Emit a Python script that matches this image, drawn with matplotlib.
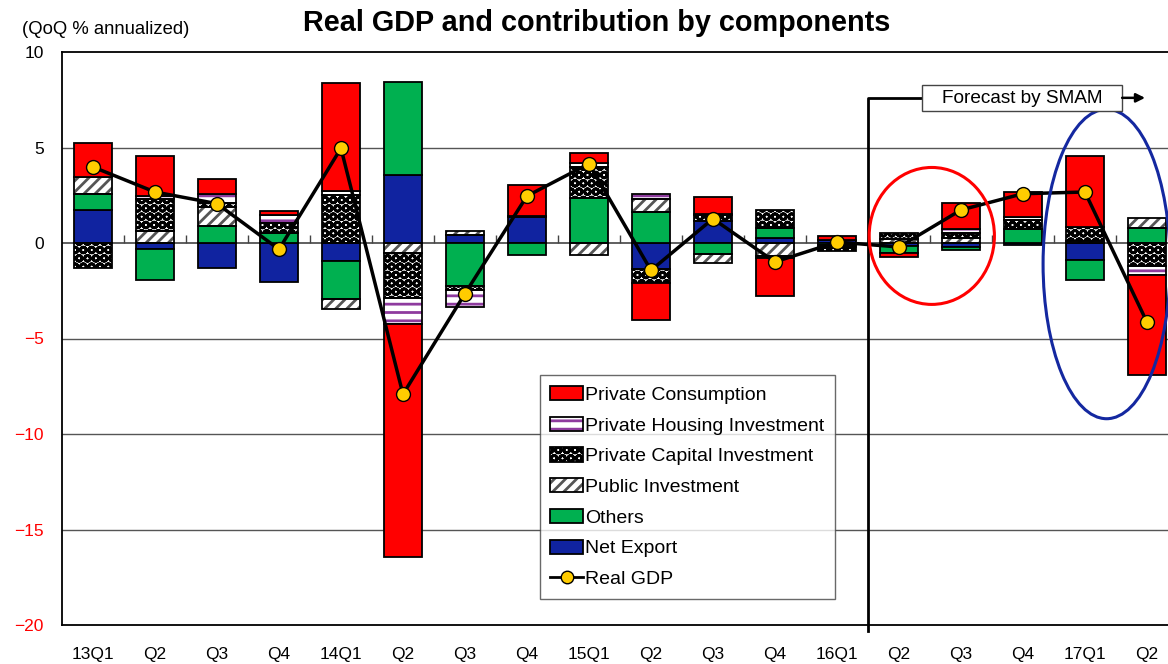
import numpy as np
import matplotlib
matplotlib.use("Agg")
import matplotlib.pyplot as plt
from matplotlib.patches import Patch, Ellipse, Rectangle
from matplotlib.lines import Line2D

categories = ['13Q1', 'Q2', 'Q3', 'Q4', '14Q1', 'Q2', 'Q3', 'Q4', '15Q1', 'Q2',
              'Q3', 'Q4', '16Q1', 'Q2', 'Q3', 'Q4', '17Q1', 'Q2']

net_export = [1.74, -0.33, -1.33, -2.03, -0.94, 3.54, 0.40, 1.35, 0.0, -1.34,
              1.15, 0.25, 0.15, -0.15, -0.20, -0.12, -0.91, 0.0]
others = [0.81, -1.61, 0.89, 0.50, -2.01, 4.89, -2.25, -0.64, 2.34, 1.64,
          -0.59, 0.55, -0.12, -0.35, -0.18, 0.72, -1.04, 0.77]
public_inv = [0.90, 0.63, 0.99, 0.04, -0.52, -0.51, 0.25, 0.0, -0.64, 0.65,
              -0.44, -0.68, -0.10, 0.20, 0.28, 0.0, 0.10, 0.52]
capital_inv = [-1.33, 1.66, 0.23, 0.50, 2.51, -2.35, -0.21, 0.06, 1.66, -0.74,
               0.30, 0.91, -0.20, 0.30, 0.26, 0.48, 0.74, -1.20]
housing_inv = [0.0, 0.17, 0.44, 0.44, 0.21, -1.40, -0.87, 0.0, 0.17, 0.26,
               0.06, -0.09, 0.0, 0.0, 0.18, 0.16, 0.0, -0.48]
consumption = [1.80, 2.09, 0.78, 0.18, 5.64, -12.18, 0.0, 1.63, 0.56, -1.97,
               0.91, -2.00, 0.20, -0.23, 1.39, 1.31, 3.71, -5.23]
real_gdp = [3.98, 2.67, 2.06, -0.33, 4.96, -7.92, -2.65, 2.46, 4.15, -1.43,
            1.27, -0.99, 0.05, -0.21, 1.73, 2.58, 2.67, -4.14]

RED = '#FF0000'
GREEN = '#00B050'
BLUE = '#1023A0'
PURPLE = '#8E3B9E'
GOLD = '#FFCC00'

plt.rcParams['font.family'] = ['Liberation Sans', 'DejaVu Sans']
plt.rcParams['hatch.linewidth'] = 2.0

fig = plt.figure(figsize=(11.68, 6.64), dpi=100)
ax = fig.add_axes([62 / 1168, 1 - 625 / 664, 1 - 62 / 1168, (625 - 52) / 664])

x = np.arange(len(categories))
W = 0.62

# stacking order from zero outward
series = [
    ('Net Export', net_export, dict(facecolor=BLUE)),
    ('Others', others, dict(facecolor=GREEN)),
    ('Public Investment', public_inv, dict(facecolor='white', hatch='///', hatchcol='#555555')),
    ('Private Capital Investment', capital_inv, dict(facecolor='white', hatch='OO', hatchcol='black')),
    ('Private Housing Investment', housing_inv, dict(facecolor='white', hatch='--', hatchcol=PURPLE)),
    ('Private Consumption', consumption, dict(facecolor=RED)),
]

pos_b = np.zeros(len(x))
neg_b = np.zeros(len(x))
for name, vals, st in series:
    v = np.array(vals, dtype=float)
    bottoms = np.where(v >= 0, pos_b, neg_b)
    m = v != 0
    if 'hatch' in st:
        ax.bar(x[m], v[m], W, bottom=bottoms[m], facecolor='white',
               edgecolor=st['hatchcol'], hatch=st['hatch'], linewidth=0, zorder=2)
        ax.bar(x[m], v[m], W, bottom=bottoms[m], facecolor='none',
               edgecolor='black', linewidth=1.3, zorder=2.1)
    else:
        ax.bar(x[m], v[m], W, bottom=bottoms[m], facecolor=st['facecolor'],
               edgecolor='black', linewidth=1.3, zorder=2.1)
    pos_b = pos_b + np.where(v > 0, v, 0)
    neg_b = neg_b + np.where(v < 0, v, 0)

ax.plot(x, real_gdp, color='black', linewidth=2.5, marker='o', markersize=10,
        markerfacecolor=GOLD, markeredgecolor='black', markeredgewidth=1, zorder=4)

# axes styling
ax.set_xlim(-0.5, 17.34)
ax.set_ylim(-20, 10)
yt = [-20, -15, -10, -5, 0, 5, 10]
ax.set_yticks(yt)
ax.set_yticklabels(['\u221220', '\u221215', '\u221210', '\u22125', '0', '5', '10'])
for lab, val in zip(ax.get_yticklabels(), yt):
    lab.set_color('red' if val < 0 else 'black')
ax.set_xticks(x)
ax.set_xticklabels(categories)
ax.tick_params(axis='x', length=0, pad=16, labelsize=12.5)
ax.tick_params(axis='y', length=0, pad=13, labelsize=12.5)
ax.spines['right'].set_visible(False)
for s in ['left', 'bottom', 'top']:
    ax.spines[s].set_linewidth(1.3)
for yv in [-15, -10, -5, 5]:
    ax.axhline(yv, color='#555555', linewidth=1.0, zorder=0)
ax.axhline(0, color='#444444', linewidth=1.2, zorder=1)
ax.vlines(np.arange(len(x)) + 0.5, 0, 0.42, color='#444444', linewidth=1.0, zorder=1)

# forecast marker
ax.plot([12.5, 12.5, 13.37], [-20.3, 7.6, 7.6], color='black', linewidth=2, clip_on=False, zorder=5)
ax.add_patch(Rectangle((13.37, 6.91), 16.6 - 13.37, 8.27 - 6.91, facecolor='white',
                       edgecolor='#444444', linewidth=1, zorder=6))
ax.text((13.37 + 16.6) / 2, 7.59, 'Forecast by SMAM', fontsize=13.7, ha='center', va='center', zorder=7)
ax.annotate('', xy=(16.97, 7.6), xytext=(16.6, 7.6),
            arrowprops=dict(arrowstyle='-|>', color='black', lw=1.8, mutation_scale=13,
                            shrinkA=0, shrinkB=0), zorder=6)

# highlight ellipses
ax.add_patch(Ellipse((13.53, 0.37), 2.02, 7.17, fill=False, edgecolor=RED, linewidth=2.2, zorder=5))
ax.add_patch(Ellipse((16.35, -1.1), 2.05, 16.2, fill=False, edgecolor='#1428A0', linewidth=2.2, zorder=5, clip_on=False))

# legend
def hp(fc, hatch=None, hc=None):
    if hatch is None:
        return Patch(facecolor=fc, edgecolor='black', linewidth=1.3)
    return (Patch(facecolor='white', edgecolor=hc, hatch=hatch, linewidth=0),
            Patch(facecolor='none', edgecolor='black', linewidth=1.3))

handles = [hp(RED), hp(None, '--', PURPLE), hp(None, 'OO', 'black'), hp(None, '///', '#555555'),
           hp(GREEN), hp(BLUE),
           Line2D([], [], color='black', linewidth=2, marker='o', markersize=9,
                  markerfacecolor=GOLD, markeredgecolor='black')]
labels = ['Private Consumption', 'Private Housing Investment', 'Private Capital Investment',
          'Public Investment', 'Others', 'Net Export', 'Real GDP']
leg = ax.legend(handles, labels, loc='upper left', bbox_to_anchor=(0.432, 0.436),
                fontsize=14, frameon=True, fancybox=False, edgecolor='#444444',
                handlelength=1.65, handleheight=0.75, handletextpad=0.12, labelspacing=0.66,
                borderpad=0.55, borderaxespad=0)
leg.get_frame().set_linewidth(1.0)
leg.set_zorder(7)

fig.text(22 / 1168, 1 - 30 / 664, '(QoQ % annualized)', fontsize=13.3, ha='left', va='center')
fig.text(597 / 1168, 1 - 23 / 664, 'Real GDP and contribution by components', fontsize=20.8,
         fontweight='bold', ha='center', va='center')

fig.savefig('out.png', dpi=100)
